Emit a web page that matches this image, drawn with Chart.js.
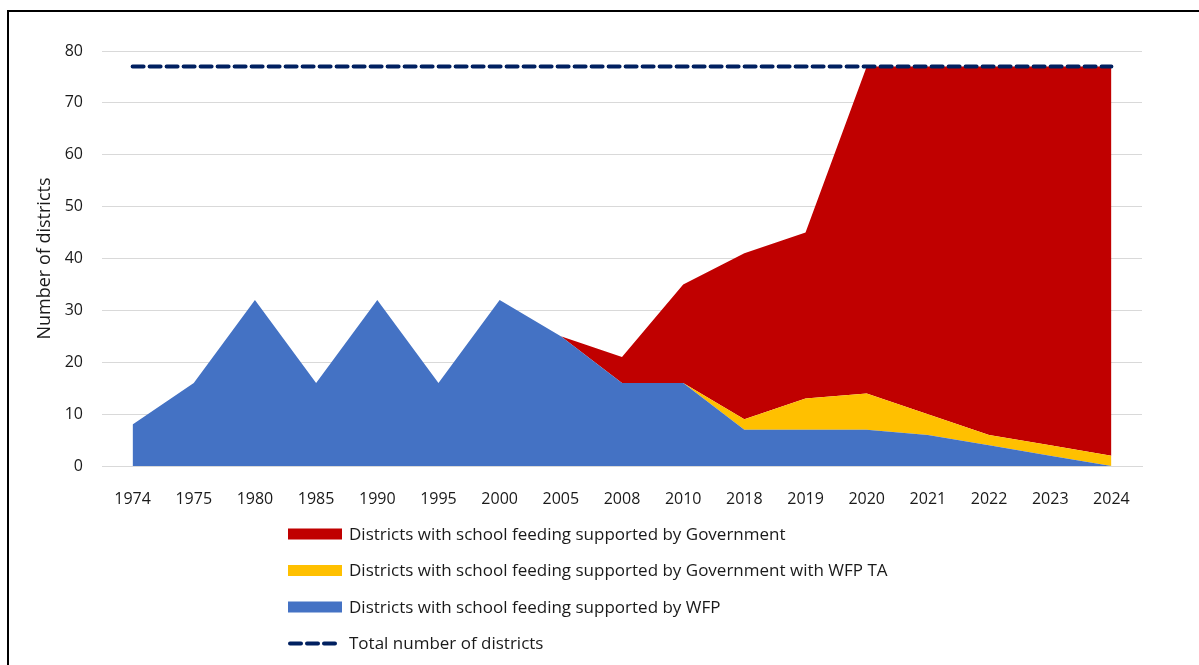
<!DOCTYPE html>
<html lang="en">

<head>
    <meta charset="UTF-8">
    <title>School feeding by district</title>
    <script src="https://cdn.jsdelivr.net/npm/chart.js"></script>

    <style>
        body {
            margin: 0;
            background: #fff;
            overflow: hidden;
        }

        .frame {
            position: absolute;
            left: 7px;
            top: 10px;
            width: 1400px;
            height: 900px;
            border: 2px solid #000;
        }

        .wrap {
            position: absolute;
            left: 0;
            top: 0;
            width: 1199px;
            height: 665px;
        }
    </style>
</head>

<body>
    <div class="frame"></div>
    <div class="wrap">
        <canvas id="districts"></canvas>
    </div>

<script>
    const years = ['1974', '1975', '1980', '1985', '1990', '1995', '2000', '2005', '2008',
        '2010', '2018', '2019', '2020', '2021', '2022', '2023', '2024'];

    const byWfp = [8, 16, 32, 16, 32, 16, 32, 25, 16, 16, 7, 7, 7, 6, 4, 2, 0];
    const byGovWithTa = [0, 0, 0, 0, 0, 0, 0, 0, 0, 0, 2, 6, 7, 4, 2, 2, 2];
    const byGov = [0, 0, 0, 0, 0, 0, 0, 0, 5, 19, 32, 32, 63, 67, 71, 73, 75];
    const totalDistricts = [77, 77, 77, 77, 77, 77, 77, 77, 77, 77, 77, 77, 77, 77, 77, 77, 77];

    const yTicks = [0, 10, 20, 30, 40, 50, 60, 70, 80];

    const FONT = '"Open Sans", sans-serif';
    const TEXT = '#1a1a1a';

    Chart.defaults.font.family = FONT;
    Chart.defaults.font.size = 16;
    Chart.defaults.color = TEXT;

    // legend rows, top to bottom: dataset indexes
    const legendOrder = [3, 2, 1, 0];

    // legend drawn as a single column under the plot
    const columnLegend = {
        id: 'columnLegend',
        afterDraw(chart) {
            const ctx = chart.ctx;
            ctx.save();
            ctx.font = '17px ' + FONT;
            ctx.textBaseline = 'middle';
            legendOrder.forEach((idx, row) => {
                const ds = chart.data.datasets[idx];
                const y = 534 + row * 36.5;
                if (ds.borderDash) {
                    ctx.strokeStyle = ds.borderColor;
                    ctx.lineWidth = ds.borderWidth;
                    ctx.lineCap = 'round';
                    ctx.setLineDash(ds.borderDash);
                    ctx.beginPath();
                    ctx.moveTo(290, y);
                    ctx.lineTo(341, y);
                    ctx.stroke();
                    ctx.setLineDash([]);
                } else {
                    ctx.fillStyle = ds.backgroundColor;
                    ctx.fillRect(288, y - 5.5, 54, 11);
                }
                ctx.fillStyle = TEXT;
                ctx.fillText(ds.label, 349, y + 1);
            });
            ctx.restore();
        }
    };

    new Chart(document.getElementById('districts'), {
        type: 'line',
        data: {
            labels: years,
            datasets: [
                {
                    label: 'Total number of districts',
                    data: totalDistricts,
                    stack: 'total',
                    borderColor: '#002060',
                    borderWidth: 4,
                    borderDash: [11, 6],
                    borderCapStyle: 'round',
                    fill: false,
                    pointRadius: 0
                },
                {
                    label: 'Districts with school feeding supported by WFP',
                    data: byWfp,
                    stack: 'areas',
                    backgroundColor: '#4472c4',
                    borderWidth: 0,
                    fill: 'origin',
                    pointRadius: 0
                },
                {
                    label: 'Districts with school feeding supported by Government with WFP TA',
                    data: byGovWithTa,
                    stack: 'areas',
                    backgroundColor: '#ffc000',
                    borderWidth: 0,
                    fill: '-1',
                    pointRadius: 0
                },
                {
                    label: 'Districts with school feeding supported by Government',
                    data: byGov,
                    stack: 'areas',
                    backgroundColor: '#c00000',
                    borderWidth: 0,
                    fill: '-1',
                    pointRadius: 0
                }
            ]
        },
        options: {
            responsive: true,
            maintainAspectRatio: false,
            animation: false,
            layout: {
                padding: { left: 0, right: 57, top: 51, bottom: 159 }
            },
            plugins: {
                legend: { display: false },
                tooltip: { enabled: false }
            },
            scales: {
                x: {
                    offset: true,
                    grid: { display: false },
                    border: { display: true, color: '#d9d9d9', width: 1 },
                    ticks: { padding: 16, maxRotation: 0, autoSkip: false },
                    afterFit(scale) { scale.height = 40; }
                },
                y: {
                    stacked: true,
                    min: yTicks[0],
                    max: yTicks[yTicks.length - 1],
                    grid: { color: '#d9d9d9', lineWidth: 1, drawTicks: false },
                    border: { display: false },
                    ticks: { stepSize: 10, padding: 19 },
                    title: {
                        display: true,
                        text: 'Number of districts',
                        font: { size: 18 },
                        padding: { top: 34, bottom: 0 }
                    },
                    afterFit(scale) { scale.width = 102; }
                }
            }
        },
        plugins: [columnLegend]
    });
</script>
</body>

</html>
